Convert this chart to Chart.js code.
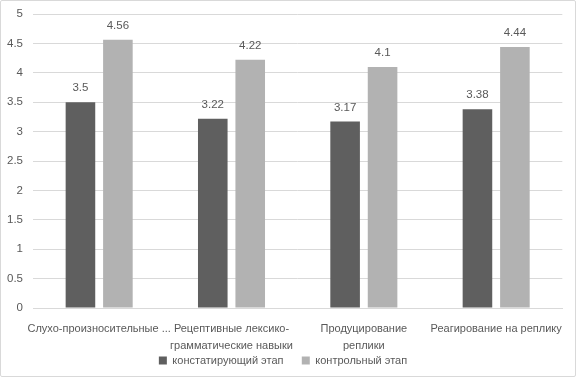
<!DOCTYPE html>
<html><head><meta charset="utf-8">
<script src="https://cdn.jsdelivr.net/npm/chart.js@4"></script>
<style>
html,body{margin:0;padding:0;background:#fff;}
#wrap{position:absolute;left:0;top:0;width:574px;height:375px;border:1px solid #d9d9d9;border-radius:2px;}
canvas{display:block;}
</style></head>
<body><div id="wrap"><canvas id="c" width="574" height="375"></canvas></div>
<script>
const categories = [
  ["Слухо-произносительные ..."],
  ["Рецептивные лексико-", "грамматические навыки"],
  ["Продуцирование", "реплики"],
  ["Реагирование на реплику"]
];
const seriesNames = ["констатирующий этап", "контрольный этап"];
const stage1 = [3.5, 3.22, 3.17, 3.38];
const stage2 = [4.56, 4.22, 4.1, 4.44];
const yTicks = [0, 0.5, 1, 1.5, 2, 2.5, 3, 3.5, 4, 4.5, 5];

const FONT = "'Liberation Sans', Arial, sans-serif";
const TXT = "#595959";

const labelPlugin = {
  id: 'vals',
  afterDatasetsDraw(chart) {
    const ctx = chart.ctx;
    ctx.save();
    ctx.font = "11.5px " + FONT;
    ctx.fillStyle = TXT;
    ctx.textAlign = 'center';
    ctx.textBaseline = 'middle';
    chart.data.datasets.forEach((ds, i) => {
      chart.getDatasetMeta(i).data.forEach((bar, j) => {
        ctx.fillText(String(ds.data[j]), bar.x, bar.y - 14);
      });
    });
    ctx.restore();
  }
};

new Chart(document.getElementById('c'), {
  type: 'bar',
  data: {
    labels: categories,
    datasets: [
      {label: seriesNames[0], data: stage1, backgroundColor: '#5f5f5f', categoryPercentage: 0.566, barPercentage: 0.79},
      {label: seriesNames[1], data: stage2, backgroundColor: '#b2b2b2', categoryPercentage: 0.566, barPercentage: 0.79}
    ]
  },
  options: {
    responsive: false,
    animation: false,
    devicePixelRatio: 1,
    layout: {padding: {top: 13, right: 10, left: 0, bottom: 0}},
    plugins: {
      legend: {
        position: 'bottom',
        labels: {
          boxWidth: 8, boxHeight: 8, color: TXT, font: {size: 11, family: FONT}, padding: 0,
          generateLabels(chart) {
            const items = Chart.defaults.plugins.legend.labels.generateLabels(chart);
            items.forEach((it, i) => { if (i < items.length - 1) it.text = it.text + '\u00A0'.repeat(6); });
            return items;
          }
        }
      },
      tooltip: {enabled: false}
    },
    scales: {
      x: {
        grid: {display: false, drawTicks: false},
        border: {display: true, color: '#d9d9d9'},
        ticks: {color: TXT, font: {size: 11, family: FONT, lineHeight: 1.6}, maxRotation: 0, autoSkip: false, padding: 12},
        afterFit(s) { s.height = 47; }
      },
      y: {
        min: 0, max: 5,
        afterBuildTicks(s) { s.ticks = yTicks.map(v => ({value: v})); },
        grid: {color: '#d9d9d9', drawTicks: false},
        border: {display: false},
        ticks: {color: TXT, font: {size: 11.5, family: FONT}, padding: 10, callback: v => String(v)},
        afterFit(s) { s.width = 32; s.paddingTop = 0; s.paddingBottom = 0; }
      }
    }
  },
  plugins: [labelPlugin]
});
</script></body></html>
